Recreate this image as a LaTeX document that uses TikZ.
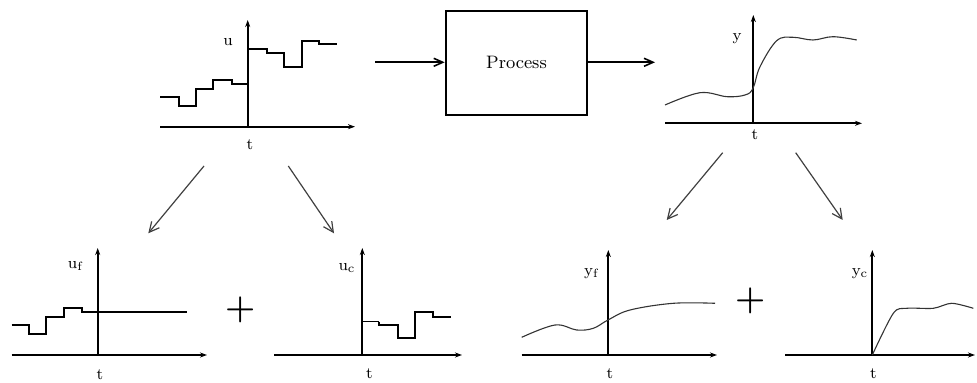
\documentclass[tikz,border=0pt]{standalone}
\usetikzlibrary{arrows.meta, positioning, calc}
\tikzset{
  axisline/.style={line width=1pt, -{Stealth[length=3.5pt,width=2.5pt]}},
  stepline/.style={line width=1pt},
  respline/.style={line width=0.55pt, black!80},
  splitarrow/.style={line width=0.6pt, black!75, -{Straight Barb[length=5pt,width=5pt]}},
  sigarrow/.style={line width=0.8pt, -{Straight Barb[length=4.5pt,width=4pt]}},
  axlabel/.style={font=\footnotesize, inner sep=1pt},
  plussign/.style={font=\LARGE\bfseries, inner sep=0pt},
}
\begin{document}
\begin{tikzpicture}[x=0.5pt, y=-0.5pt]
  \useasboundingbox (0,0) rectangle (977,383);

  % input signal u (top left)
  \draw[axisline] (160,126.7) -- (355,126.7);
  \draw[axisline] (247.7,126.7) -- (247.7,20);
  \draw[stepline] (160,96.7) -| (179.3,106) -| (196,89) -| (213.3,80)
        -| (231.7,84.3) -- (247.7,84.3);
  \draw[stepline] (247.7,49.3) -| (266.7,52.7) -| (284.3,66.7) -| (301.7,40.7)
        -| (319,44) -- (336.7,44);
  \node[axlabel] (uLab) at (228,42) {u};
  \node[axlabel] (tUL) at (250,145) {t};

  % the process block
  \node[draw, line width=1pt, minimum width=70.8pt, minimum height=52.2pt,
        inner sep=0pt, font=\small] (proc) at (516.5,62.9) {Process};
  \coordinate (uIn) at (375,62.3);
  \coordinate (yOut) at (655,62.3);
  \draw[sigarrow] (uIn) -- (proc.west |- uIn);
  \draw[sigarrow] (proc.east |- yOut) -- (yOut);

  % output signal y (top right)
  \draw[axisline] (665,123.3) -- (862,123.3);
  \draw[axisline] (753.3,123.3) -- (753.3,15);
  \draw[respline] plot[smooth, tension=0.6] coordinates {(665,105) (700,92.7)
        (727,96.7) (745,95) (753,88.3) (760,66.7) (776.7,40.7) (793,37.3)
        (813,40) (833,36.7) (856.7,40)};
  \node[axlabel] (yLab) at (737,39) {y};
  \node[axlabel] (tUR) at (755,135) {t};

  % splitting arrows
  \coordinate (uSrcL) at (204,166);
  \coordinate (uDstL) at (148.3,233.3);
  \coordinate (uSrcR) at (288.3,166);
  \coordinate (uDstR) at (334,233.3);
  \coordinate (ySrcL) at (722.7,152.7);
  \coordinate (yDstL) at (666.7,220);
  \coordinate (ySrcR) at (795.7,152.7);
  \coordinate (yDstR) at (842.7,220);
  \draw[splitarrow] (uSrcL) -- (uDstL);
  \draw[splitarrow] (uSrcR) -- (uDstR);
  \draw[splitarrow] (ySrcL) -- (yDstL);
  \draw[splitarrow] (ySrcR) -- (yDstR);

  % free part u_f
  \draw[axisline] (11.7,355) -- (207,355);
  \draw[axisline] (97.7,355) -- (97.7,248);
  \draw[stepline] (11.7,325) -| (29.3,334) -| (46,317.3) -| (64,308.3)
        -| (81.7,312.3) -- (186.7,312.3);
  \node[axlabel] (ufLab) at (76,266) {u$_{\mathrm{f}}$};
  \node[axlabel] (tLL) at (100,375) {t};

  \node[plussign] (plusU) at (240.7,310) {+};

  % forced part u_c
  \draw[axisline] (274,355) -- (462,355);
  \draw[axisline] (362.3,355) -- (362.3,248);
  \draw[line width=0.5pt] (362.3,321.7) -- (379.3,321.7);
  \draw[stepline] (379.3,321.7) |- (398.3,325) |- (415,338.3) |- (432.7,311.7)
        |- (450.7,317.3);
  \node[axlabel] (ucLab) at (347,268) {u$_{\mathrm{c}}$};
  \node[axlabel] (tLM) at (369.3,373.3) {t};

  % free response y_f
  \draw[axisline] (521.7,355) -- (717,355);
  \draw[axisline] (608.3,355) -- (608.3,250);
  \draw[respline] plot[smooth, tension=0.6] coordinates {(521.7,337.3) (555,325)
        (576.7,330) (593.3,328.3) (608,320) (630,310) (673.3,303.3) (715,303.3)};
  \node[axlabel] (yfLab) at (592,273.3) {y$_{\mathrm{f}}$};
  \node[axlabel] (tRM) at (610,373.3) {t};

  \node[plussign] (plusY) at (750.7,300.7) {+};

  % forced response y_c
  \draw[axisline] (785,355) -- (975,355);
  \draw[axisline] (872.3,355) -- (872.3,250);
  \draw[respline] plot[smooth, tension=0.5] coordinates {(872.3,355) (893.3,313.3)
        (906.7,308.3) (933.3,308.3) (951.7,303.3) (973.3,308.3)};
  \node[axlabel] (ycLab) at (860,273.3) {y$_{\mathrm{c}}$};
  \node[axlabel] (tLR) at (873.3,373.3) {t};
\end{tikzpicture}
\end{document}
